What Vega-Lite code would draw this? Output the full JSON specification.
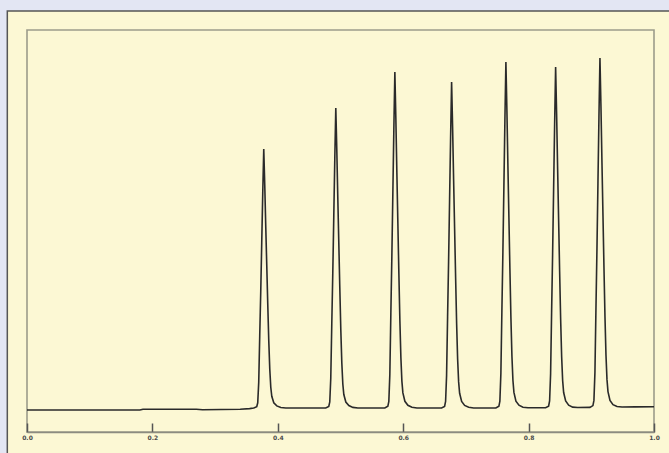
{
  "$schema": "https://vega.github.io/schema/vega-lite/v6.json",
  "width": 627,
  "height": 402,
  "autosize": {"type": "none"},
  "padding": {"left": 27, "top": 30, "right": 15, "bottom": 21},
  "background": "#e3e6f3",
  "config": {"view": {"stroke": null}},
  "datasets": {
    "panel": [{"x": -0.0314, "xe": 1.2, "y": 397, "ye": -200}],
    "frame": [{"x": 0, "xe": 1, "y": -24, "ye": 378}],
    "trace": [
      {"x": 0.0, "y": -2}, {"x": 0.1, "y": -2}, {"x": 0.18, "y": -2}, {"x": 0.185, "y": -1.3}, {"x": 0.27, "y": -1.3}, {"x": 0.28, "y": -1.8}, {"x": 0.34, "y": -1.2}, {"x": 0.355, "y": -0.6},
      {"x": 0.3616, "y": 0}, {"x": 0.3664, "y": 1.3}, {"x": 0.368, "y": 5.2}, {"x": 0.3696, "y": 25.9}, {"x": 0.3712, "y": 72.5}, {"x": 0.3728, "y": 116.6}, {"x": 0.3744, "y": 165.8}, {"x": 0.376, "y": 215.0}, {"x": 0.3776, "y": 259}, {"x": 0.3792, "y": 222.7}, {"x": 0.3808, "y": 181.3}, {"x": 0.3824, "y": 142.5}, {"x": 0.384, "y": 103.6}, {"x": 0.3856, "y": 67.3}, {"x": 0.3872, "y": 38.9}, {"x": 0.3888, "y": 20.7}, {"x": 0.3904, "y": 11.7}, {"x": 0.3936, "y": 5.2}, {"x": 0.3984, "y": 2.1}, {"x": 0.4048, "y": 0.5}, {"x": 0.4128, "y": 0},
      {"x": 0.4765, "y": 0}, {"x": 0.4813, "y": 1.5}, {"x": 0.4829, "y": 6.0}, {"x": 0.4845, "y": 30}, {"x": 0.4861, "y": 84}, {"x": 0.4877, "y": 135}, {"x": 0.4893, "y": 192}, {"x": 0.4909, "y": 249}, {"x": 0.4925, "y": 300}, {"x": 0.4941, "y": 258}, {"x": 0.4957, "y": 210}, {"x": 0.4973, "y": 165}, {"x": 0.4989, "y": 120}, {"x": 0.5005, "y": 78}, {"x": 0.5021, "y": 45}, {"x": 0.5037, "y": 24}, {"x": 0.5053, "y": 13.5}, {"x": 0.5085, "y": 6}, {"x": 0.5133, "y": 2.4}, {"x": 0.5197, "y": 0.6}, {"x": 0.5277, "y": 0},
      {"x": 0.5707, "y": 0}, {"x": 0.5755, "y": 1.7}, {"x": 0.5771, "y": 6.7}, {"x": 0.5787, "y": 33.6}, {"x": 0.5803, "y": 94.1}, {"x": 0.5819, "y": 151.2}, {"x": 0.5835, "y": 215.0}, {"x": 0.5851, "y": 278.9}, {"x": 0.5867, "y": 336}, {"x": 0.5883, "y": 289.0}, {"x": 0.5899, "y": 235.2}, {"x": 0.5915, "y": 184.8}, {"x": 0.5931, "y": 134.4}, {"x": 0.5947, "y": 87.4}, {"x": 0.5963, "y": 50.4}, {"x": 0.5979, "y": 26.9}, {"x": 0.5995, "y": 15.1}, {"x": 0.6027, "y": 6.7}, {"x": 0.6075, "y": 2.7}, {"x": 0.6139, "y": 0.7}, {"x": 0.6219, "y": 0},
      {"x": 0.6612, "y": 0}, {"x": 0.666, "y": 1.6}, {"x": 0.6676, "y": 6.5}, {"x": 0.6692, "y": 32.6}, {"x": 0.6708, "y": 91.3}, {"x": 0.6724, "y": 146.7}, {"x": 0.674, "y": 208.6}, {"x": 0.6756, "y": 270.6}, {"x": 0.6772, "y": 326}, {"x": 0.6788, "y": 280.4}, {"x": 0.6804, "y": 228.2}, {"x": 0.682, "y": 179.3}, {"x": 0.6836, "y": 130.4}, {"x": 0.6852, "y": 84.8}, {"x": 0.6868, "y": 48.9}, {"x": 0.6884, "y": 26.1}, {"x": 0.69, "y": 14.7}, {"x": 0.6932, "y": 6.5}, {"x": 0.698, "y": 2.6}, {"x": 0.7044, "y": 0.7}, {"x": 0.7124, "y": 0},
      {"x": 0.7478, "y": 0}, {"x": 0.7526, "y": 1.7}, {"x": 0.7542, "y": 6.9}, {"x": 0.7558, "y": 34.6}, {"x": 0.7574, "y": 96.9}, {"x": 0.759, "y": 155.7}, {"x": 0.7606, "y": 221.4}, {"x": 0.7622, "y": 287.2}, {"x": 0.7638, "y": 346}, {"x": 0.7654, "y": 297.6}, {"x": 0.767, "y": 242.2}, {"x": 0.7686, "y": 190.3}, {"x": 0.7702, "y": 138.4}, {"x": 0.7718, "y": 90.0}, {"x": 0.7734, "y": 51.9}, {"x": 0.775, "y": 27.7}, {"x": 0.7766, "y": 15.6}, {"x": 0.7798, "y": 6.9}, {"x": 0.7846, "y": 2.8}, {"x": 0.791, "y": 0.7}, {"x": 0.799, "y": 0.2},
      {"x": 0.8271, "y": 0.3}, {"x": 0.8319, "y": 1.9}, {"x": 0.8335, "y": 7.0}, {"x": 0.8351, "y": 34.3}, {"x": 0.8367, "y": 95.7}, {"x": 0.8383, "y": 153.7}, {"x": 0.8399, "y": 218.4}, {"x": 0.8415, "y": 283.2}, {"x": 0.8431, "y": 341}, {"x": 0.8447, "y": 293.5}, {"x": 0.8463, "y": 238.9}, {"x": 0.8479, "y": 187.8}, {"x": 0.8495, "y": 136.6}, {"x": 0.8511, "y": 88.9}, {"x": 0.8527, "y": 51.4}, {"x": 0.8543, "y": 27.5}, {"x": 0.8559, "y": 15.5}, {"x": 0.8591, "y": 7.0}, {"x": 0.8639, "y": 2.9}, {"x": 0.8703, "y": 0.9}, {"x": 0.8783, "y": 0.5},
      {"x": 0.8978, "y": 0.6}, {"x": 0.9026, "y": 2.4}, {"x": 0.9042, "y": 7.6}, {"x": 0.9058, "y": 35.6}, {"x": 0.9074, "y": 98.6}, {"x": 0.909, "y": 158.1}, {"x": 0.9106, "y": 224.6}, {"x": 0.9122, "y": 291.1}, {"x": 0.9138, "y": 350}, {"x": 0.9154, "y": 301.6}, {"x": 0.917, "y": 245.6}, {"x": 0.9186, "y": 193.1}, {"x": 0.9202, "y": 140.6}, {"x": 0.9218, "y": 91.6}, {"x": 0.9234, "y": 53.1}, {"x": 0.925, "y": 28.6}, {"x": 0.9266, "y": 16.4}, {"x": 0.9298, "y": 7.6}, {"x": 0.9346, "y": 3.4}, {"x": 0.941, "y": 1.5}, {"x": 0.949, "y": 1.0},
      {"x": 0.97, "y": 1.1}, {"x": 1.0, "y": 1.3}
    ]
  },
  "encoding": {
    "x": {
      "field": "x",
      "type": "quantitative",
      "scale": {"domain": [0, 1], "nice": false, "zero": false},
      "axis": {
        "title": null,
        "values": [0, 0.2, 0.4, 0.6, 0.8, 1],
        "format": ".1f",
        "grid": false,
        "domainColor": "#8c8c80",
        "domainWidth": 1.5,
        "ticks": true,
        "tickColor": "#555555",
        "tickSize": -9,
        "tickWidth": 1.5,
        "tickOpacity": 1,
        "labelFont": "DejaVu Sans",
        "labelFontSize": 6,
        "labelFontWeight": "bold",
        "labelColor": "#4a4a4a",
        "labelPadding": 11,
        "labelFlush": false,
        "labelOverlap": false,
        "zindex": 1
      }
    },
    "y": {
      "field": "y",
      "type": "quantitative",
      "scale": {"domain": [-24, 378], "nice": false, "zero": false},
      "axis": null
    }
  },
  "layer": [
    {
      "data": {"name": "panel"},
      "mark": {"type": "rect", "fill": "#fcf8d4", "stroke": "#555555", "strokeWidth": 1.5, "clip": false},
      "encoding": {"x2": {"field": "xe"}, "y2": {"field": "ye"}}
    },
    {
      "data": {"name": "frame"},
      "mark": {"type": "rect", "fill": null, "stroke": "#9c9c8a", "strokeWidth": 1.6, "clip": false},
      "encoding": {"x2": {"field": "xe"}, "y2": {"field": "ye"}}
    },
    {
      "data": {"name": "trace"},
      "mark": {"type": "line", "color": "#2a2a2a", "strokeWidth": 1.6, "clip": true},
      "encoding": {}
    }
  ]
}
